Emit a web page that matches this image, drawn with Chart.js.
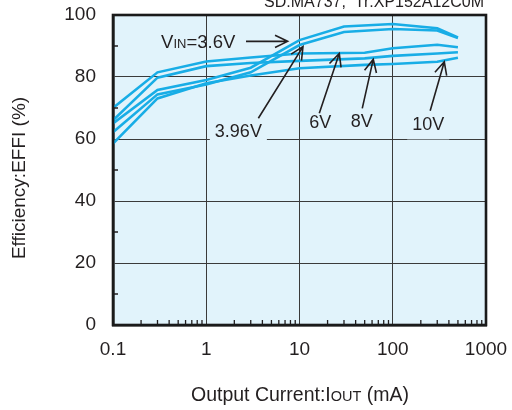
<!DOCTYPE html>
<html>
<head>
<meta charset="utf-8">
<script src="https://cdn.jsdelivr.net/npm/chart.js@4.4.1/dist/chart.umd.min.js"></script>
<style>
  html, body { margin: 0; padding: 0; background: #ffffff; }
  #wrap { width: 512px; height: 410px; }
</style>
</head>
<body>
<div id="wrap"><canvas id="effChart" width="512" height="410"></canvas></div>
<script>
// ================================
// DATA
// ================================

const xTicks = [0.1, 1, 10, 100, 1000];

const currentsLow = [0.1, 0.3, 1, 3, 10, 30, 100, 300, 500];
const eff36 = [65, 75.8, 79, 83, 91.9, 96.3, 97.1, 95.7, 92.8];
const eff396 = [62.2, 74.4, 77.6, 81.5, 90.3, 94.5, 95.5, 95, 92.6];

const currentsHigh = [0.1, 0.3, 1, 3, 10, 50, 100, 300, 500];
const eff6 = [70, 81.5, 85, 86.3, 87.6, 87.8, 89.3, 90.4, 89.6];
const eff8 = [66, 79.8, 83.5, 84.5, 85.2, 86, 86.8, 87.6, 88];
const eff10 = [58.5, 73.1, 78, 80.5, 82.8, 83.9, 84.2, 84.9, 86.2];

const seriesNames = ["3.6V", "3.96V", "6V", "8V", "10V"];

// ================================
// LOOK
// ================================

const LINE = "#18ade6";
const PANEL = "#e1f3fb";
const INK = "#231f20";
const FONT = "'Liberation Sans', Arial, sans-serif";

// annotation arrows / labels, in data units (mA, %)
const notes = [
    { text: null,    lx: 0,    ly: 0,    fx: 2.67, fy: 91.5, tx: 7.46, ty: 91.5 },
    { text: "3.96V", lx: 2.21, ly: 62.4, fx: 3.62, fy: 66.7, tx: 10.9, ty: 89.8 },
    { text: "6V",    lx: 16.7, ly: 65.3, fx: 16.3, fy: 68.3, tx: 26.7, ty: 87.6 },
    { text: "8V",    lx: 46.6, ly: 65.5, fx: 47.1, fy: 69.9, tx: 61.8, ty: 85.7 },
    { text: "10V",   lx: 240,  ly: 64.4, fx: 252,  fy: 69.1, tx: 357,  ty: 84.9 }
];

function toPoints(xs, ys) {
    return xs.map((x, i) => ({ x: x, y: ys[i] }));
}

function lineSet(name, xs, ys) {
    return {
        label: name,
        data: toPoints(xs, ys),
        borderColor: LINE,
        borderWidth: 2.6,
        pointRadius: 0,
        showLine: true,
        tension: 0,
        fill: false
    };
}

// draw mixed-size text pieces
function mixedText(ctx, parts, x, y, align) {
    let total = 0;
    parts.forEach(p => {
        ctx.font = p.size + "px " + FONT;
        total += ctx.measureText(p.t).width;
    });
    let cx = align === "right" ? x - total : align === "center" ? x - total / 2 : x;
    ctx.textAlign = "left";
    parts.forEach(p => {
        ctx.font = p.size + "px " + FONT;
        ctx.fillText(p.t, cx, y);
        cx += ctx.measureText(p.t).width;
    });
}

function arrow(ctx, x1, y1, x2, y2) {
    const a = Math.atan2(y2 - y1, x2 - x1);
    const len = 14;
    const spread = 0.45;
    ctx.beginPath();
    ctx.moveTo(x1, y1);
    ctx.lineTo(x2, y2);
    ctx.moveTo(x2 - len * Math.cos(a - spread), y2 - len * Math.sin(a - spread));
    ctx.lineTo(x2, y2);
    ctx.lineTo(x2 - len * Math.cos(a + spread), y2 - len * Math.sin(a + spread));
    ctx.stroke();
}

// ================================
// PLUGIN: panel, ticks, frame, notes
// ================================

const decorPlugin = {
    id: "decor",

    beforeDraw(chart) {
        const { ctx, chartArea: a } = chart;
        ctx.save();
        ctx.fillStyle = PANEL;
        ctx.fillRect(a.left, a.top, a.right - a.left, a.bottom - a.top);
        ctx.restore();
    },

    afterDatasetsDraw(chart) {
        const { ctx, chartArea: a } = chart;
        const xs = chart.scales.x;
        const ys = chart.scales.y;

        ctx.save();

        // minor ticks
        ctx.strokeStyle = INK;
        ctx.lineWidth = 1.3;
        ctx.beginPath();
        [0.1, 1, 10, 100].forEach(d => {
            for (let m = 2; m <= 9; m++) {
                const px = xs.getPixelForValue(d * m);
                ctx.moveTo(px, a.bottom);
                ctx.lineTo(px, a.bottom - 5);
            }
        });
        [10, 30, 50, 70, 90].forEach(v => {
            const py = ys.getPixelForValue(v);
            ctx.moveTo(a.left, py);
            ctx.lineTo(a.left + 5, py);
        });
        ctx.stroke();

        // frame
        ctx.strokeStyle = "#1a1a1a";
        ctx.lineWidth = 2.6;
        ctx.strokeRect(a.left, a.top, a.right - a.left, a.bottom - a.top);

        // notes
        ctx.fillStyle = INK;
        ctx.strokeStyle = INK;
        ctx.lineWidth = 1.6;
        ctx.textBaseline = "middle";

        notes.forEach(n => {
            if (n.text) {
                const lx = xs.getPixelForValue(n.lx);
                const ly = ys.getPixelForValue(n.ly);
                ctx.font = "18px " + FONT;
                const w = ctx.measureText(n.text).width;
                ctx.fillStyle = PANEL;
                ctx.fillRect(lx - w / 2 - 5, ly - 12, w + 10, 26);
                ctx.fillStyle = INK;
                ctx.textAlign = "center";
                ctx.fillText(n.text, lx, ly);
            }
            arrow(ctx,
                xs.getPixelForValue(n.fx), ys.getPixelForValue(n.fy),
                xs.getPixelForValue(n.tx), ys.getPixelForValue(n.ty));
        });

        // VIN=3.6V label
        ctx.textBaseline = "alphabetic";
        const vx = xs.getPixelForValue(2.05);
        const vy = ys.getPixelForValue(89.4);
        mixedText(ctx, [
            { t: "V", size: 18.5 },
            { t: "IN", size: 13 },
            { t: "=3.6V", size: 18.5 }
        ], vx, vy, "right");

        ctx.restore();
    },

    afterDraw(chart) {
        const { ctx, chartArea: a } = chart;
        ctx.save();
        ctx.fillStyle = INK;
        ctx.textBaseline = "alphabetic";

        // clipped header at top right
        ctx.font = "16px " + FONT;
        ctx.textAlign = "right";
        ctx.fillText("SD:MA737,  Tr:XP152A12C0M", a.right - 2, 7);

        // x title
        mixedText(ctx, [
            { t: "Output Current:I", size: 19.5 },
            { t: "OUT", size: 14.5 },
            { t: " (mA)", size: 19.5 }
        ], 300, 401, "center");

        // y title
        ctx.translate(25, 178);
        ctx.rotate(-Math.PI / 2);
        ctx.font = "19px " + FONT;
        ctx.textAlign = "center";
        ctx.fillText("Efficiency:EFFI (%)", 0, 0);

        ctx.restore();
    }
};

// ================================
// CHART
// ================================

const effCtx = document.getElementById("effChart");

new Chart(effCtx, {
    type: "scatter",

    data: {
        datasets: [
            lineSet(seriesNames[0], currentsLow, eff36),
            lineSet(seriesNames[1], currentsLow, eff396),
            lineSet(seriesNames[2], currentsHigh, eff6),
            lineSet(seriesNames[3], currentsHigh, eff8),
            lineSet(seriesNames[4], currentsHigh, eff10)
        ]
    },

    options: {
        responsive: false,
        animation: false,
        devicePixelRatio: 1,

        layout: {
            padding: { left: 0, top: 15, right: 26, bottom: 0 }
        },

        plugins: {
            legend: { display: false },
            tooltip: { enabled: false }
        },

        scales: {
            x: {
                type: "logarithmic",
                min: 0.1,
                max: 1000,
                afterBuildTicks(scale) {
                    scale.ticks = xTicks.map(v => ({ value: v }));
                },
                afterFit(scale) {
                    scale.height = 85;
                    scale.paddingLeft = 0;
                    scale.paddingRight = 0;
                },
                ticks: {
                    autoSkip: false,
                    maxRotation: 0,
                    padding: 13,
                    color: INK,
                    font: { family: FONT, size: 19 },
                    callback: v => String(v)
                },
                grid: {
                    color: "#3a3a3a",
                    lineWidth: 1,
                    drawTicks: false
                },
                border: { color: "#1a1a1a", width: 2.6 }
            },

            y: {
                min: 0,
                max: 100,
                afterFit(scale) {
                    scale.width = 113;
                    scale.paddingTop = 0;
                    scale.paddingBottom = 0;
                },
                ticks: {
                    stepSize: 20,
                    padding: 17,
                    color: INK,
                    font: { family: FONT, size: 19 }
                },
                grid: {
                    color: "#3a3a3a",
                    lineWidth: 1,
                    drawTicks: false
                },
                border: { color: "#1a1a1a", width: 2.6 }
            }
        }
    },

    plugins: [decorPlugin]
});
</script>
</body>
</html>
